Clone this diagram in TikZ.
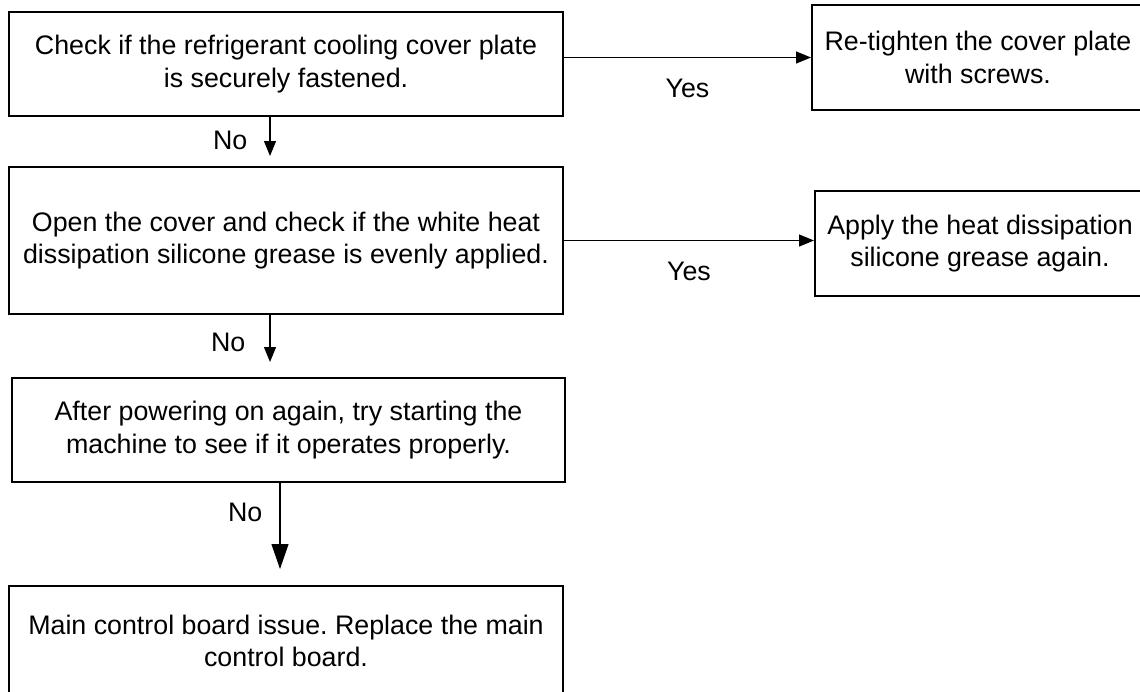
\documentclass[tikz,border=0pt]{standalone}
\usepackage{fontspec}
\setmainfont{Liberation Sans}
\usetikzlibrary{arrows.meta, positioning}
\frenchspacing
\tikzstyle{box}   = [draw, line width=1pt, align=center, inner sep=0pt,
                     font=\fontsize{13.4}{16.2}\selectfont,
                     minimum width=277pt, minimum height=52pt]
\tikzstyle{arrow} = [line width=0.6pt, -{Triangle[length=7.5pt,width=6pt]}]
\tikzstyle{lbl}   = [font=\fontsize{13.4}{15}\selectfont, inner sep=0pt]

\begin{document}
\begin{tikzpicture}[x=0.5pt, y=-0.5pt]
  \path[use as bounding box, clip] (0,0) rectangle (1140,691);

  %checks down the left
  \node[box] (b1) at (286,64) {Check if the refrigerant cooling cover plate\\is securely fastened.};
  \node[box, minimum height=73.5pt] (b2) at (286,240.5) {Open the cover and check if the white heat\\dissipation silicone grease is evenly applied.};
  \node[box, minimum width=276.5pt] (b3) at (288.5,430) {After powering on again, try starting the\\machine to see if it operates properly.};
  \node[box, minimum height=55pt] (b4) at (286,641) {Main control board issue. Replace the main\\control board.};

  %fixes on the right
  \node[box, minimum width=166pt, minimum height=52.5pt] (r1) at (978,57.5) {Re-tighten the cover plate\\with screws.};
  \node[box, minimum width=165pt, minimum height=52.5pt] (r2) at (980,243.5) {Apply the heat dissipation\\silicone grease again.};

  %yes branches
  \draw[arrow] (b1.east |- r1.west) -- node[lbl, below=10.5pt] {Yes} (r1.west);
  \draw[arrow] (b2.east) -- node[lbl, below=10.5pt] {Yes} (b2.east -| r2.west);

  %no branches
  \draw[arrow, shorten >=5pt] ([xshift=-8pt]b1.south) -- node[lbl, pos=0.47, left=11pt] {No} ([xshift=-8pt]b1.south |- b2.north);
  \draw[arrow, shorten >=7.5pt] ([xshift=-8pt]b2.south) -- node[lbl, pos=0.44, left=12pt] {No} ([xshift=-8pt]b2.south |- b3.north);
  \draw[arrow, -{Triangle[length=12.5pt,width=8.5pt]}, shorten >=8pt] ([xshift=-4.25pt]b3.south) -- node[lbl, pos=0.29, left=8.5pt] {No} ([xshift=-4.25pt]b3.south |- b4.north);
\end{tikzpicture}
\end{document}
